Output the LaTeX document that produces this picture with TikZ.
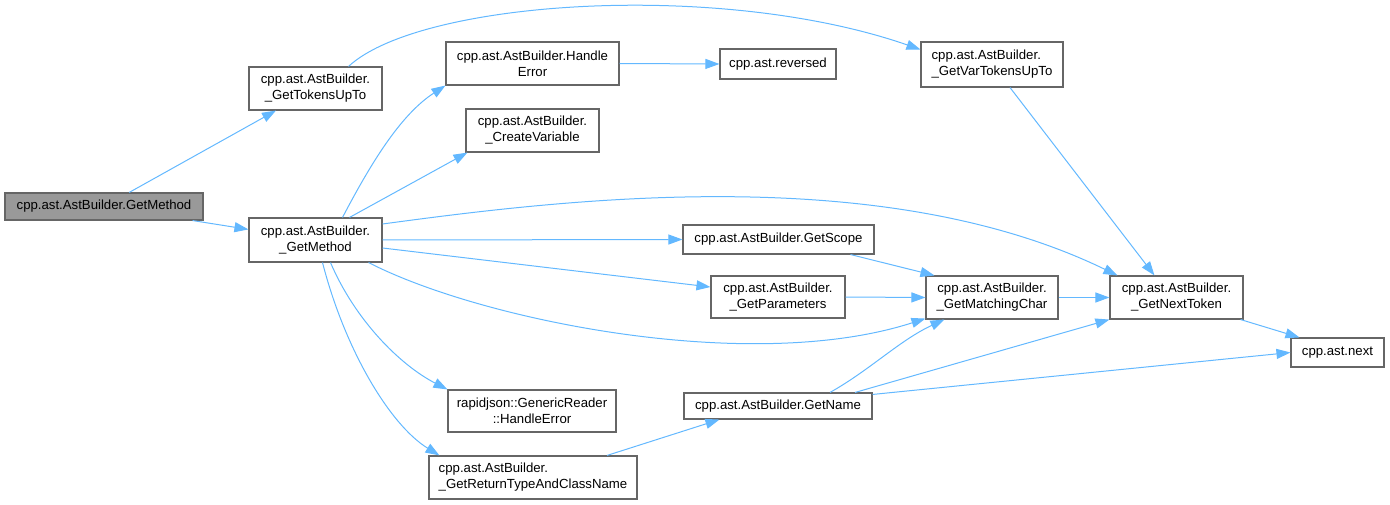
\documentclass[tikz,border=0pt]{standalone}
\usepackage{fontspec}
\setmainfont{Liberation Sans}
\usetikzlibrary{arrows.meta,calc}
\definecolor{edgeblue}{HTML}{63B8FF}
\definecolor{boxgray}{HTML}{666666}
\definecolor{rootfill}{HTML}{999999}
\tikzset{
  fn/.style={draw=boxgray, line width=1.1pt, fill=white, inner sep=0pt, align=center,
    font=\fontsize{13.2}{16}\selectfont},
  rootfn/.style={fn, fill=rootfill},
  call/.style={draw=edgeblue, line width=1pt, -{Triangle[length=14pt,width=10pt]}}
}
\begin{document}
\begin{tikzpicture}[x=1pt,y=-1pt]
\useasboundingbox (0,0) rectangle (1390,505);
% nodes
\node[rootfn, minimum width=198pt, minimum height=27pt] (root) at (104,206.5) {cpp.ast.AstBuilder.GetMethod};
\node[fn, minimum width=133pt, minimum height=43pt] (tok) at (315.5,88.5) {cpp.ast.AstBuilder.\\\_GetTokensUpTo};
\node[fn, minimum width=133pt, minimum height=44pt] (gm) at (315.5,240) {cpp.ast.AstBuilder.\\\_GetMethod};
\node[fn, minimum width=173pt, minimum height=43pt] (he) at (532.5,63.5) {cpp.ast.AstBuilder.Handle\\Error};
\node[fn, minimum width=116pt, minimum height=30pt] (rev) at (778,64) {cpp.ast.reversed};
\node[fn, minimum width=133pt, minimum height=43pt] (cv) at (532.5,130.5) {cpp.ast.AstBuilder.\\\_CreateVariable};
\node[fn, align=left, minimum width=142pt, minimum height=45pt] (vt) at (992,64.5) {cpp.ast.AstBuilder.\\\_GetVarTokensUpTo};
\node[fn, minimum width=191pt, minimum height=29pt] (gs) at (778.5,239.5) {cpp.ast.AstBuilder.GetScope};
\node[fn, minimum width=134pt, minimum height=42pt] (gp) at (778,297) {cpp.ast.AstBuilder.\\\_GetParameters};
\node[fn, minimum width=132pt, minimum height=43pt] (mc) at (992,297.5) {cpp.ast.AstBuilder.\\\_GetMatchingChar};
\node[fn, minimum width=133pt, minimum height=43pt] (nt) at (1176.5,297.5) {cpp.ast.AstBuilder.\\\_GetNextToken};
\node[fn, minimum width=93pt, minimum height=29pt] (nx) at (1337.5,352.5) {cpp.ast.next};
\node[fn, minimum width=168pt, minimum height=42pt] (gr) at (532,411) {rapidjson::GenericReader\\::HandleError};
\node[fn, align=left, minimum width=208pt, minimum height=43pt] (rt) at (533,477.5) {cpp.ast.AstBuilder.\\\_GetReturnTypeAndClassName};
\node[fn, minimum width=188pt, minimum height=26pt] (gn) at (778,406) {cpp.ast.AstBuilder.GetName};
% edges
\draw[call] (root) -- (tok);
\draw[call] (root) -- (gm);
\draw[call] ($(tok.north)+(33,0)$) .. controls (420,0) and (720,-20) .. ($(vt.west)+(0,-15)$);
\draw[call] ($(gm.north)+(27,0)$) .. controls (370,165) and (400,115) .. (he.south west);
\draw[call] ($(gm.north)+(34,0)$) -- ($(cv.south west)+(2,0)$);
\draw[call] ($(gm.east)+(0,-16)$) .. controls (560,200) and (880,160) .. ($(nt.north west)+(8,0)$);
\draw[call] (gm.east) -- (gs.west);
\draw[call] ($(gm.east)+(0,8)$) -- ($(gp.west)+(0,-10)$);
\draw[call] ($(gm.south east)+(-14,0)$) .. controls (480,320) and (750,375) .. ($(mc.south west)+(0,-1)$);
\draw[call] ($(gm.south)+(15,0)$) .. controls (355,320) and (400,365) .. (gr.north west);
\draw[call] ($(gm.south)+(7,0)$) .. controls (345,350) and (390,425) .. ($(rt.north west)+(11,0)$);
\draw[call] (he.east) -- (rev.west);
\draw[call] ($(vt.south)+(18,0)$) -- ($(nt.north)+(-22,0)$);
\draw[call] ($(gs.south)+(72,0)$) -- ($(mc.north west)+(9,0)$);
\draw[call] (gp.east) -- (mc.west);
\draw[call] (mc.east) -- (nt.west);
\draw[call] ($(nt.south east)+(-3,0)$) -- ($(nx.north west)+(9,0)$);
\draw[call] ($(gn.north)+(52,0)$) .. controls (870,370) and (900,340) .. ($(mc.south west)+(19,0)$);
\draw[call] ($(gn.north)+(77,0)$) -- (nt.south west);
\draw[call] ($(gn.north east)+(0,2)$) -- (nx.west);
\draw[call] ($(rt.north)+(74,0)$) -- ($(gn.south west)+(36,0)$);
\end{tikzpicture}
\end{document}
